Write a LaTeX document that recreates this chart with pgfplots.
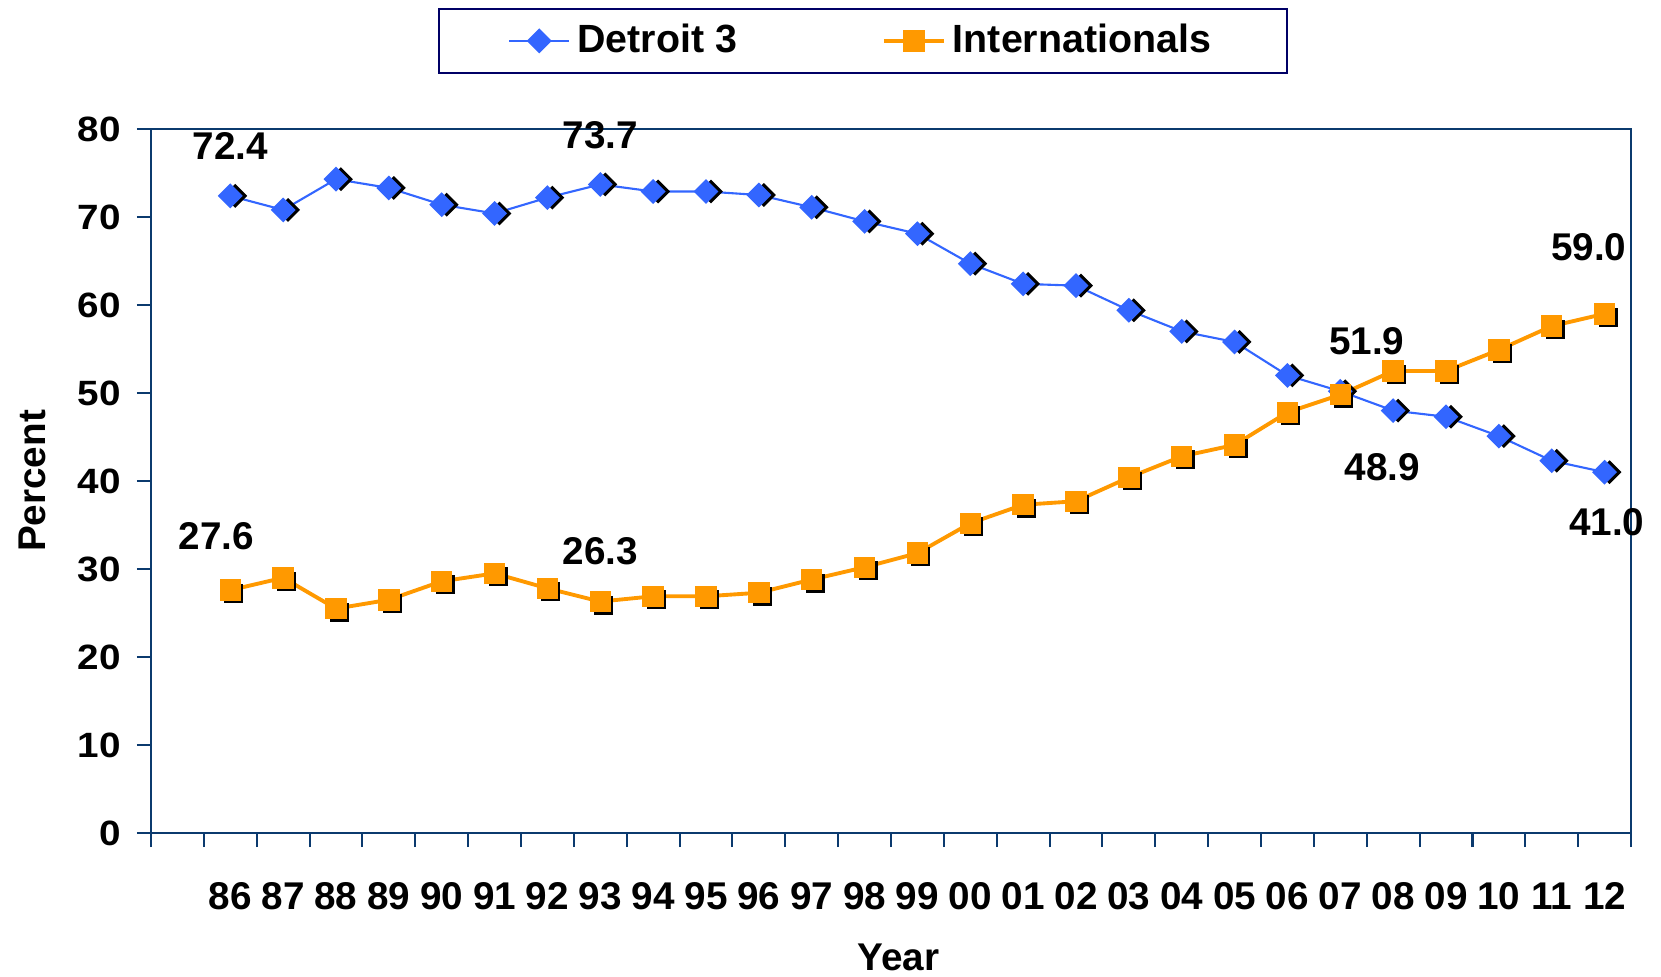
\documentclass[border=0pt]{standalone}
\usepackage{pgfplots}
\pgfplotsset{compat=1.18}
\usepackage{pgfplotstable}
\usepackage{fontspec}
\setmainfont{Liberation Sans}
\definecolor{dblue}{HTML}{3366FF}
\definecolor{intorange}{HTML}{FF9900}
\definecolor{axnavy}{HTML}{0B3A6E}
\definecolor{legnavy}{HTML}{000066}

% index 0 = 1986 ... 26 = 2012
\pgfplotstableread{
x d3 intl
0 72.4 27.6
1 70.8 29.0
2 74.3 25.5
3 73.3 26.5
4 71.4 28.6
5 70.4 29.5
6 72.2 27.8
7 73.7 26.3
8 72.9 26.9
9 72.9 26.9
10 72.5 27.3
11 71.1 28.8
12 69.5 30.2
13 68.1 31.8
14 64.7 35.2
15 62.4 37.3
16 62.2 37.7
17 59.4 40.4
18 57.0 42.8
19 55.8 44.1
20 52.0 47.8
21 50.2 49.8
22 48.0 52.5
23 47.3 52.5
24 45.1 54.9
25 42.3 57.6
26 41.0 59.0
}\shares

\begin{document}
\begin{tikzpicture}
\useasboundingbox (-15.1mm,-14.3mm) rectangle (151mm,83.3mm);
\begin{axis}[
    at={(0,0)}, anchor=south west,
    scale only axis,
    width=148mm, height=70.4mm,
    xmin=-1.5, xmax=26.5, ymin=0, ymax=80,
    xtick={0,...,26},
    xticklabels={86,87,88,89,90,91,92,93,94,95,96,97,98,99,00,01,02,03,04,05,06,07,08,09,10,11,12},
    minor xtick={-1.5,-0.5,...,26.5},
    ytick={0,10,...,80},
    xtick pos=bottom, ytick pos=left,
    tick align=outside,
    major tick length=4pt, minor tick length=4pt,
    major x tick style={draw=none},
    every tick/.style={axnavy, line width=0.6pt},
    axis line style={axnavy, line width=0.8pt},
    font=\fontsize{11}{13}\selectfont\bfseries,
    /pgf/number format/assume math mode=true,
    xticklabel style={font=\fontsize{11}{13}\selectfont\bfseries, anchor=center, yshift=-4.9mm},
    yticklabel style={font=\fontsize{10}{12}\selectfont\bfseries, xshift=-0.4mm},
    yticklabel={\scalebox{1.1}[1]{\pgfmathprintnumber{\tick}}},
    xlabel={Year}, ylabel={Percent},
    xlabel style={at={(axis description cs:0.505,-0.176)}, anchor=center},
    ylabel style={at={(axis description cs:-0.0804,0.5)}, anchor=center},
    clip=false,
    legend columns=2,
    legend style={at={(0.194,1.172)}, anchor=north west,
        draw=legnavy, line width=0.6pt,
        inner xsep=6.9mm, inner ysep=0.8mm,
        font=\fontsize{11.2}{13}\selectfont\bfseries,
        /tikz/every even column/.append style={column sep=13.8mm}},
]
% marker shadows
\addplot[forget plot, only marks, mark=square*, mark size=2.2pt, black,
    mark options={rotate=45, xshift=1pt, yshift=-1pt}] table[x=x, y=d3] {\shares};
\addplot[forget plot, only marks, mark=square*, mark size=2.5pt, black,
    mark options={xshift=1pt, yshift=-1pt}] table[x=x, y=intl] {\shares};

\addplot[dblue, line width=0.6pt, mark=square*, mark size=2.2pt,
    mark options={rotate=45, fill=dblue, draw=dblue}] table[x=x, y=d3] {\shares};
\addlegendentry{Detroit 3}
\addplot[intorange, line width=1.1pt, mark=square*, mark size=2.5pt,
    mark options={fill=intorange, draw=intorange}] table[x=x, y=intl] {\shares};
\addlegendentry{Internationals}

\node[font=\fontsize{11}{13}\selectfont\bfseries] at (axis cs:0,78.1) {72.4};
\node[font=\fontsize{11}{13}\selectfont\bfseries] at (axis cs:7,79.3) {73.7};
\node[font=\fontsize{11}{13}\selectfont\bfseries] at (axis cs:-0.26,33.7) {27.6};
\node[font=\fontsize{11}{13}\selectfont\bfseries] at (axis cs:7,32.0) {26.3};
\node[font=\fontsize{11}{13}\selectfont\bfseries] at (axis cs:21.5,55.9) {51.9};
\node[font=\fontsize{11}{13}\selectfont\bfseries] at (axis cs:21.8,41.6) {48.9};
\node[font=\fontsize{11}{13}\selectfont\bfseries] at (axis cs:25.7,66.6) {59.0};
\node[font=\fontsize{11}{13}\selectfont\bfseries] at (axis cs:26.04,35.3) {41.0};
\end{axis}
\end{tikzpicture}
\end{document}
